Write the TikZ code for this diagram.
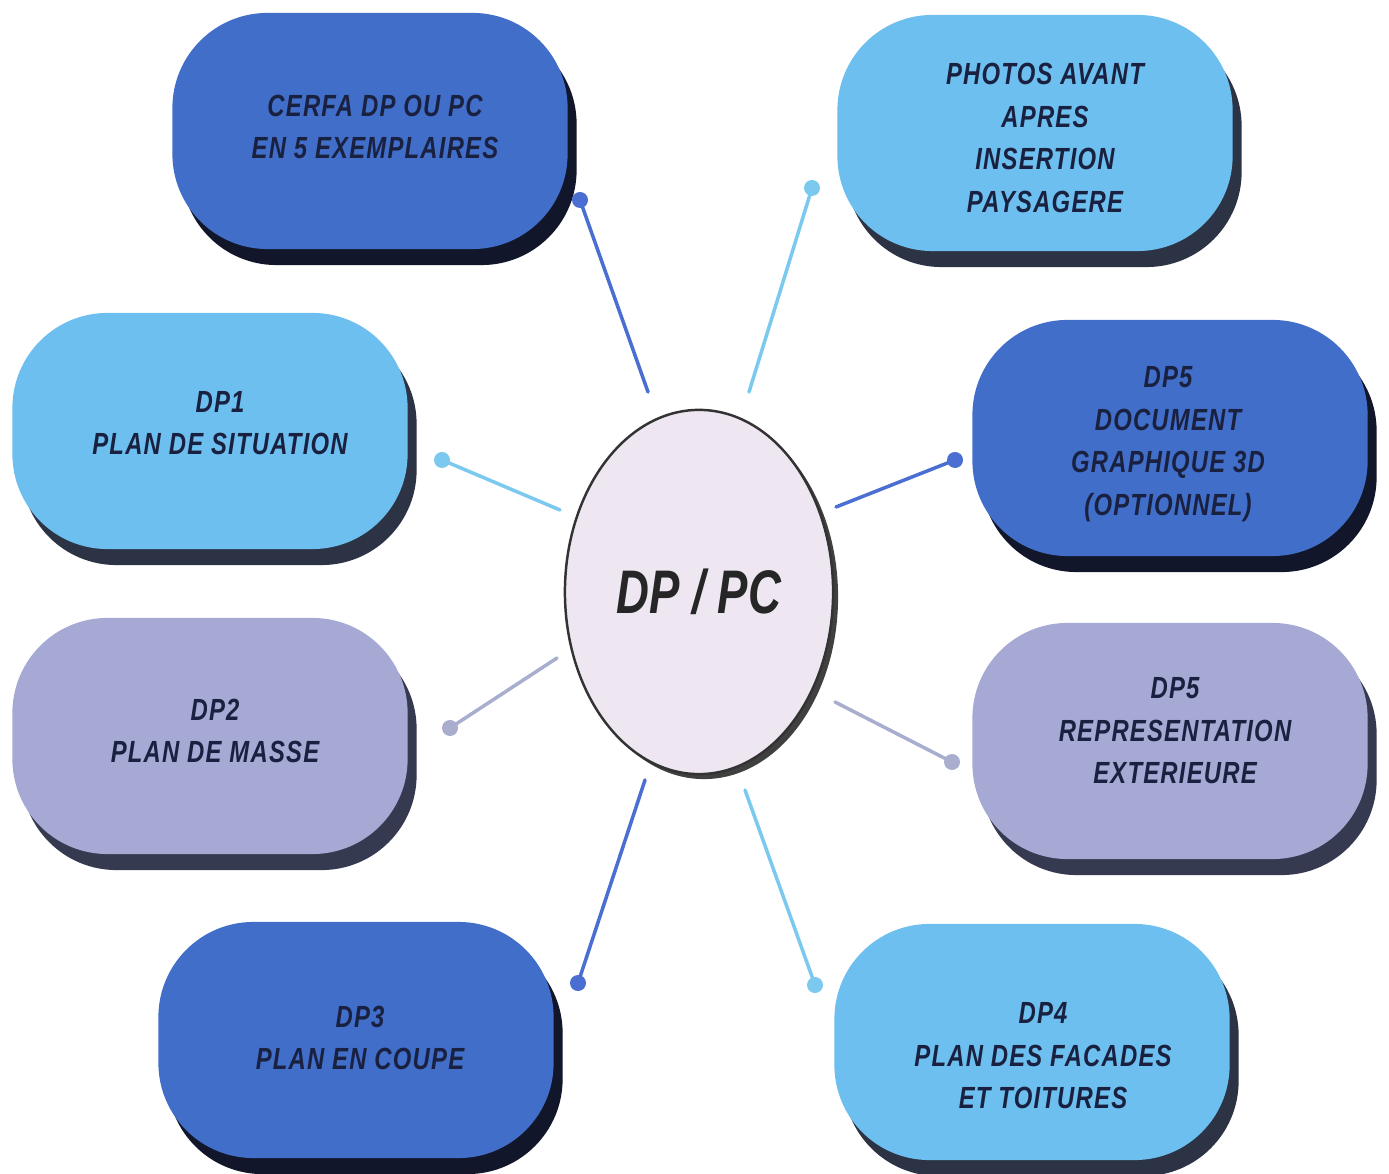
\documentclass[tikz,border=0pt]{standalone}
\usepackage{fontspec}
\setmainfont{Liberation Sans}[FakeStretch=0.78, LetterSpace=4]
\newfontfamily\hubfont{Liberation Sans}[FakeStretch=0.74]
\usetikzlibrary{shadows,shapes.geometric}
\definecolor{dblue}{HTML}{416EC8}
\definecolor{lblue}{HTML}{6CBFEE}
\definecolor{lav}{HTML}{A6A9D4}
\definecolor{shdark}{HTML}{12162A}
\definecolor{shlight}{HTML}{2C3344}
\definecolor{shlav}{HTML}{363A50}
\definecolor{txt}{HTML}{1A2140}
\definecolor{hubfill}{HTML}{EEE7F2}
\definecolor{cdark}{HTML}{4A6ED2}
\definecolor{clight}{HTML}{7CC9F0}
\definecolor{cgrey}{HTML}{A9AECF}
\begin{document}
\begin{tikzpicture}[x=0.01cm,y=-0.01cm,
  box/.style={rectangle, rounded corners=0.95cm, minimum width=3.95cm,
    minimum height=2.36cm},
  boxtext/.style={align=center, text=txt, inner sep=0pt,
    font=\fontsize{8.7}{12.1}\selectfont\bfseries\itshape},
  darkbox/.style={box, fill=dblue,
    drop shadow={shadow xshift=0.09cm, shadow yshift=-0.16cm, fill=shdark, opacity=1}},
  lightbox/.style={box, fill=lblue,
    drop shadow={shadow xshift=0.09cm, shadow yshift=-0.16cm, fill=shlight, opacity=1}},
  lavbox/.style={box, fill=lav,
    drop shadow={shadow xshift=0.09cm, shadow yshift=-0.16cm, fill=shlav, opacity=1}},
  hub/.style={ellipse, minimum width=2.68cm, minimum height=3.64cm, fill=hubfill,
    draw=black!80, line width=0.7pt, text=black!85,
    drop shadow={shadow xshift=0.05cm, shadow yshift=-0.05cm, fill=black!75, opacity=1},
    font=\hubfont\fontsize{17.5}{20}\selectfont\bfseries\itshape},
  link/.style={line width=1pt, line cap=round},
  pin/.style={circle, inner sep=0pt, minimum size=0.16cm}
]
\useasboundingbox (0,0) rectangle (1389,1174);

% boxes
\node[darkbox]  (cerfa)   at (370,131)  {};
\node[lightbox] (photos)  at (1035,133) {};
\node[lightbox] (dpone)   at (210,431)  {};
\node[darkbox]  (dpfivea) at (1170,438) {};
\node[lavbox]   (dptwo)   at (210,736)  {};
\node[lavbox]   (dpfiveb) at (1170,741) {};
\node[darkbox]  (dpthree) at (356,1040) {};
\node[lightbox] (dpfour)  at (1032,1042) {};

% box texts
\node[boxtext] (cerfa-t)   at (375,127)  {CERFA DP OU PC\\EN 5 EXEMPLAIRES};
\node[boxtext] (photos-t)  at (1045,138) {PHOTOS AVANT\\APRES\\INSERTION\\PAYSAGERE};
\node[boxtext] (dpone-t)   at (220,423)  {DP1\\PLAN DE SITUATION};
\node[boxtext] (dpfivea-t) at (1168,444) {DP5\\DOCUMENT\\GRAPHIQUE 3D\\(OPTIONNEL)};
\node[boxtext] (dptwo-t)   at (215,731)  {DP2\\PLAN DE MASSE};
\node[boxtext] (dpfiveb-t) at (1175,731) {DP5\\REPRESENTATION\\EXTERIEURE};
\node[boxtext] (dpthree-t) at (360,1038) {DP3\\PLAN EN COUPE};
\node[boxtext] (dpfour-t)  at (1043,1056) {DP4\\PLAN DES FACADES\\ET TOITURES};

% hub
\node[hub] (hub) at (699,592) {DP / PC};

% connector ends
\coordinate (s1) at (648,392);  \node[pin, fill=cdark]  (p1) at (580,200) {};
\coordinate (s2) at (749,392);  \node[pin, fill=clight] (p2) at (812,188) {};
\coordinate (s3) at (560,510);  \node[pin, fill=clight] (p3) at (442,460) {};
\coordinate (s4) at (836,507);  \node[pin, fill=cdark]  (p4) at (955,460) {};
\coordinate (s5) at (557,658);  \node[pin, fill=cgrey]  (p5) at (450,728) {};
\coordinate (s6) at (835,702);  \node[pin, fill=cgrey]  (p6) at (952,762) {};
\coordinate (s7) at (645,780);  \node[pin, fill=cdark]  (p7) at (578,983) {};
\coordinate (s8) at (745,790);  \node[pin, fill=clight] (p8) at (815,985) {};

\draw[link, cdark]  (s1) -- (p1.center);
\draw[link, clight] (s2) -- (p2.center);
\draw[link, clight] (s3) -- (p3.center);
\draw[link, cdark]  (s4) -- (p4.center);
\draw[link, cgrey]  (s5) -- (p5.center);
\draw[link, cgrey]  (s6) -- (p6.center);
\draw[link, cdark]  (s7) -- (p7.center);
\draw[link, clight] (s8) -- (p8.center);
\end{tikzpicture}
\end{document}
